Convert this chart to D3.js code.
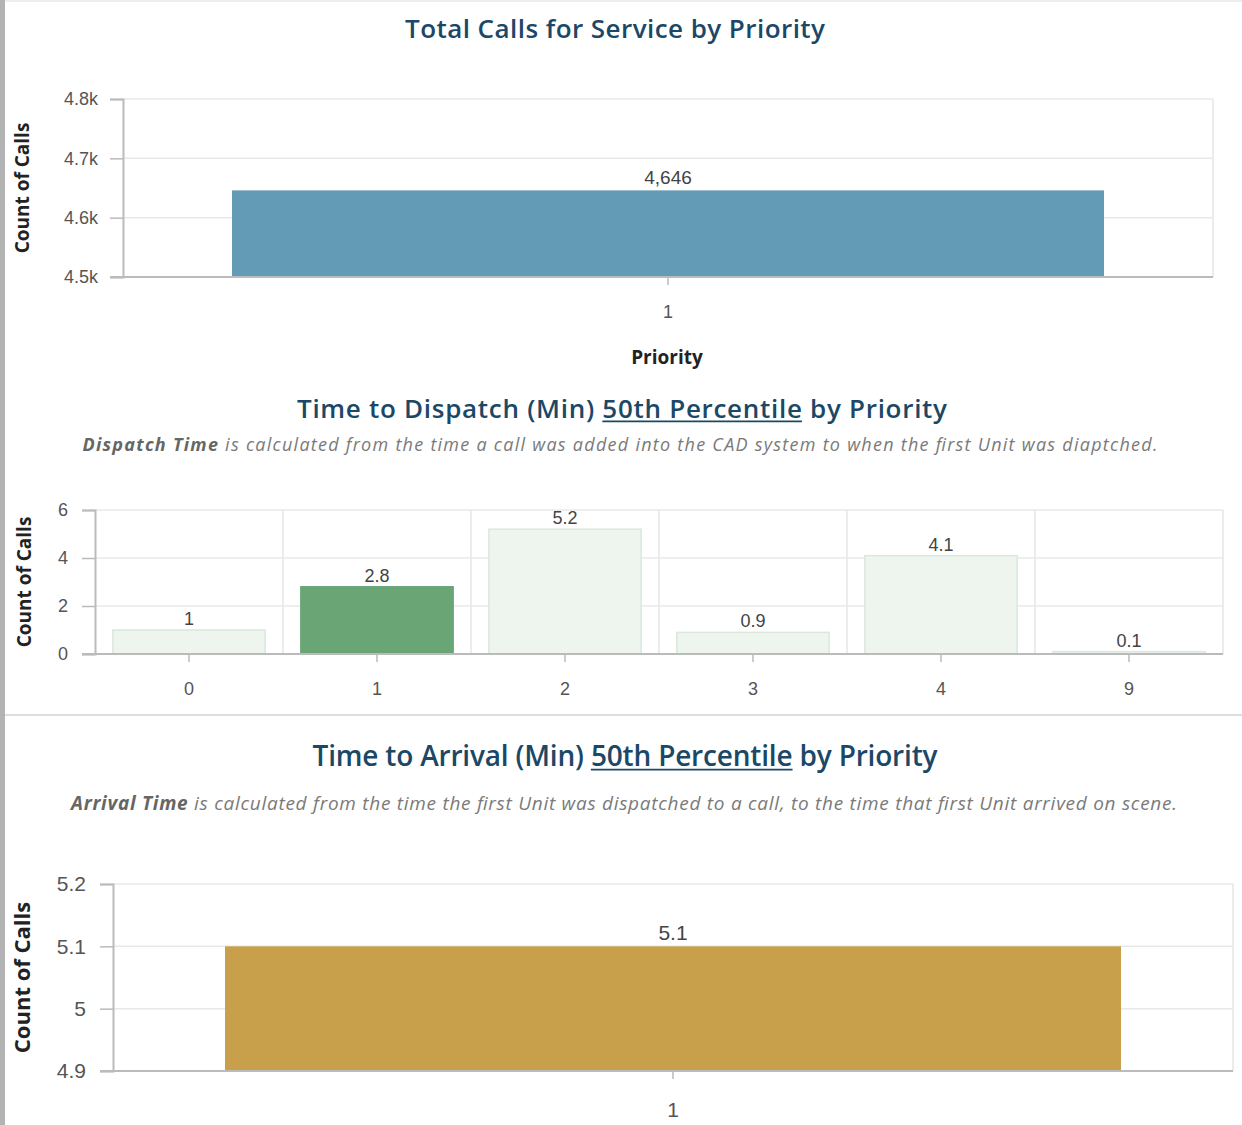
<!DOCTYPE html>
<html>
<head>
<meta charset="utf-8">
<script src="https://cdn.jsdelivr.net/npm/d3@7"></script>
<style>
  body { margin:0; background:#fff; }
  svg { display:block; }
  .title { font-family: "Open Sans", Lato, sans-serif; font-weight:600; fill:#1b4866; text-anchor:middle; }
  .sub { font-family: "Open Sans", Lato, sans-serif; font-style:italic; fill:#7a7a7a; text-anchor:middle; }
  .tick text { font-family: "Liberation Sans", Arial, sans-serif; fill:#555; }
  .ytitle { font-family: "Open Sans", "Liberation Sans", sans-serif; font-weight:bold; fill:#222; text-anchor:middle; }
  .val { font-family: "Liberation Sans", Arial, sans-serif; fill:#444; text-anchor:middle; }
</style>
</head>
<body>
<script>
// data
var callsPriorities = ['1'];
var callsValues = [4646];
var callsTicks = [4500, 4600, 4700, 4800];

var dispatchPriorities = ['0', '1', '2', '3', '4', '9'];
var dispatchValues = [1, 2.8, 5.2, 0.9, 4.1, 0.1];
var dispatchTicks = [0, 2, 4, 6];
var dispatchSelected = '1';

var arrivalPriorities = ['1'];
var arrivalValues = [5.1];
var arrivalTicks = [4.9, 5.0, 5.1, 5.2];

var W = 1242, H = 1125;
var svg = d3.select('body').append('svg').attr('width', W).attr('height', H);

// page frame
svg.append('rect').attr('x',0).attr('y',0).attr('width',5).attr('height',H).attr('fill','#b3b3b3');
svg.append('line').attr('x1',5).attr('x2',W).attr('y1',1).attr('y2',1).attr('stroke','#eee').attr('stroke-width',2);
svg.append('line').attr('x1',5).attr('x2',W).attr('y1',715).attr('y2',715).attr('stroke','#ddd').attr('stroke-width',2);

// fit a text to a given width (the original font is wider than what we have)
function fit(t, w){
  t.attr('textLength', w).attr('lengthAdjust', 'spacing');
}

function title(y, size, cx, w, list){
  var t = svg.append('text').attr('class','title').attr('x', cx).attr('y', y).style('font-size', size+'px');
  list.forEach(function(p){ t.append('tspan').text(p.t); });
  fit(t, w);
  // underline drawn by hand so the letter spacing does not break it
  var node = t.node(), pos = 0;
  list.forEach(function(p){
    if(p.u){
      var a = node.getStartPositionOfChar(pos).x;
      var b = node.getEndPositionOfChar(pos + p.t.length - 1).x;
      svg.append('line').attr('x1', a).attr('x2', b)
        .attr('y1', y + size*0.13).attr('y2', y + size*0.13)
        .attr('stroke', '#1b4866').attr('stroke-width', 1.6);
    }
    pos += p.t.length;
  });
}

function subtitle(y, size, cx, w, bold, rest){
  var t = svg.append('text').attr('class','sub').attr('x', cx).attr('y', y).style('font-size', size+'px');
  t.append('tspan').attr('font-weight','bold').attr('fill','#666').text(bold);
  t.append('tspan').text(rest);
  fit(t, w);
}

function barChart(c){
  var g = svg.append('g');
  var x = d3.scaleBand().domain(c.cats).range([c.left, c.right]).paddingInner(0).paddingOuter(0);
  var y = d3.scaleLinear().domain(c.domain).range([c.bottom, c.top]);
  var pad = c.barPad * x.bandwidth();

  // grid
  g.selectAll('.hg').data(c.ticks).enter().append('line')
    .attr('x1', c.left).attr('x2', c.right)
    .attr('y1', function(d){ return y(d); }).attr('y2', function(d){ return y(d); })
    .attr('stroke', '#e8e8e8').attr('stroke-width', 1.5);
  if(c.vgrid){
    g.selectAll('.vg').data(c.cats.slice(1)).enter().append('line')
      .attr('x1', function(d){ return x(d); }).attr('x2', function(d){ return x(d); })
      .attr('y1', c.top).attr('y2', c.bottom)
      .attr('stroke', '#e6e6e6').attr('stroke-width', 1.5);
  }
  g.append('line').attr('x1', c.right).attr('x2', c.right).attr('y1', c.top).attr('y2', c.bottom)
    .attr('stroke', '#e6e6e6').attr('stroke-width', 1.5);

  // bars
  g.selectAll('.bar').data(c.vals).enter().append('rect')
    .attr('x', function(d,i){ return x(c.cats[i]) + pad; })
    .attr('width', x.bandwidth() - 2*pad)
    .attr('y', function(d){ return y(Math.max(d, c.domain[0])); })
    .attr('height', function(d){ return c.bottom - y(Math.max(d, c.domain[0])); })
    .attr('fill', function(d,i){ return c.color(c.cats[i]); })
    .attr('stroke', function(d,i){ return c.stroke ? c.stroke(c.cats[i]) : 'none'; })
    .attr('stroke-width', 1.5);

  g.selectAll('.val').data(c.vals).enter().append('text').attr('class','val')
    .attr('x', function(d,i){ return x(c.cats[i]) + x.bandwidth()/2; })
    .attr('y', function(d){ return y(d) - c.valOff; })
    .style('font-size', c.valSize+'px')
    .text(function(d){ return c.fmtVal(d); });

  // y axis
  var ya = g.append('g').attr('transform','translate('+c.left+',0)')
    .call(d3.axisLeft(y).tickValues(c.ticks).tickFormat(c.fmtTick).tickSize(c.tickLen).tickPadding(c.tickPad));
  ya.select('.domain').attr('stroke','#bbb').attr('stroke-width',2);
  ya.selectAll('.tick line').attr('stroke','#bbb').attr('stroke-width',1.5);
  ya.selectAll('.tick text').style('font-size', c.tickSize+'px');

  // x axis
  var xa = g.append('g').attr('transform','translate(0,'+c.bottom+')')
    .call(d3.axisBottom(x).tickSize(8).tickPadding(c.xPad).tickSizeOuter(0));
  xa.select('.domain').attr('stroke','#bbb').attr('stroke-width',2).attr('d','M'+(c.left - c.tickLen)+',0H'+c.right);
  xa.selectAll('.tick line').attr('stroke','#bbb').attr('stroke-width',1.5);
  xa.selectAll('.tick text').style('font-size', c.xSize+'px');

  // y title
  svg.append('text').attr('class','ytitle')
    .attr('transform','translate('+c.ytX+','+((c.top+c.bottom)/2)+') rotate(-90)')
    .style('font-size', c.ytSize+'px').text('Count of Calls');
}

// chart 1
title(38, 26, 615, 420, [{t:'Total Calls for Service by Priority'}]);
barChart({
  cats: callsPriorities, vals: callsValues, ticks: callsTicks, domain: [4500, 4800],
  left: 123, right: 1213, top: 99, bottom: 277, barPad: 0.1, vgrid: false,
  color: function(){ return '#639bb6'; },
  fmtVal: d3.format(','), fmtTick: function(d){ return d3.format('.1f')(d/1000)+'k'; },
  valOff: 6, valSize: 19, tickLen: 13, tickPad: 12, tickSize: 18, xPad: 20, xSize: 18,
  ytX: 29, ytSize: 19
});
svg.append('text').attr('class','ytitle').attr('x', 667).attr('y', 364).style('font-size','19px').text('Priority');

// chart 2
title(418, 26, 622, 650, [{t:'Time to Dispatch (Min) '},{t:'50th Percentile', u:true},{t:' by Priority'}]);
subtitle(451, 18, 620, 1075, 'Dispatch Time', ' is calculated from the time a call was added into the CAD system to when the first Unit was diaptched.');
barChart({
  cats: dispatchPriorities, vals: dispatchValues, ticks: dispatchTicks, domain: [0, 6],
  left: 95, right: 1223, top: 510, bottom: 654, barPad: 0.095, vgrid: true,
  color: function(k){ return k === dispatchSelected ? '#6aa576' : '#eef5ef'; },
  stroke: function(k){ return k === dispatchSelected ? '#6aa576' : '#dbe8dc'; },
  fmtVal: function(d){ return String(d); }, fmtTick: d3.format('d'),
  valOff: 5, valSize: 18, tickLen: 13, tickPad: 14, tickSize: 18, xPad: 20, xSize: 18,
  ytX: 31, ytSize: 19
});

// chart 3
title(766, 28, 625, 625, [{t:'Time to Arrival (Min) '},{t:'50th Percentile', u:true},{t:' by Priority'}]);
subtitle(810, 19, 624, 1106, 'Arrival Time', ' is calculated from the time the first Unit was dispatched to a call, to the time that first Unit arrived on scene.');
barChart({
  cats: arrivalPriorities, vals: arrivalValues, ticks: arrivalTicks, domain: [4.9, 5.2],
  left: 113, right: 1233, top: 884, bottom: 1071, barPad: 0.1, vgrid: false,
  color: function(){ return '#c89f4b'; },
  fmtVal: function(d){ return String(d); }, fmtTick: function(d){ return d === 5 ? '5' : d3.format('.1f')(d); },
  valOff: 6, valSize: 21, tickLen: 13, tickPad: 14, tickSize: 21, xPad: 23, xSize: 21,
  ytX: 30, ytSize: 22
});
</script>
</body>
</html>
